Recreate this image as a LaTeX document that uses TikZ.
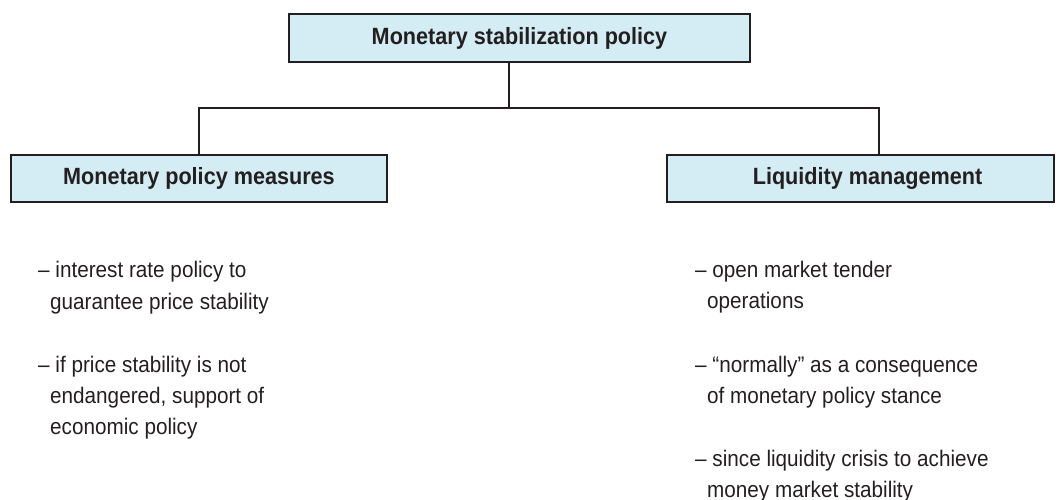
\documentclass[tikz,border=0pt]{standalone}
\usepackage{fontspec}
\setmainfont{Liberation Sans}[FakeStretch=0.92]
\definecolor{boxfill}{RGB}{212,236,243}
\definecolor{ink}{RGB}{35,31,32}
\begin{document}
\begin{tikzpicture}[x=1pt,y=-1pt,
  hbox/.style={draw=ink, line width=2pt, fill=boxfill, inner sep=0pt,
    font=\fontsize{23.5}{28}\selectfont\bfseries, text=ink},
  conn/.style={draw=ink, line width=1.5pt},
  item/.style={anchor=base west, inner sep=0pt, text=ink,
    font=\fontsize{22.5}{28}\selectfont}]
\useasboundingbox (0,0) rectangle (1056,499);
\node[hbox, minimum width=461pt, minimum height=48pt] (top) at (519.5,38) {Monetary stabilization policy};
\node[hbox, minimum width=376pt, minimum height=47pt] (left) at (199,178.5) {Monetary policy measures};
\node[hbox, minimum width=387pt, minimum height=47pt] (right) at (860.5,178.5) {\hspace*{14pt}Liquidity management};
\coordinate (j) at (509,108);
\coordinate (rj) at (879,108);
\draw[conn] (top.south -| j) -- (j);
\draw[conn] (j) -| (left.north);
\draw[conn] (j) -- (rj) -- (right.north -| rj);
% left items
\node[item] (l1a) at (38,277) {– interest rate policy to};
\node[item] (l1b) at (50,309) {guarantee price stability};
\node[item] (l2a) at (38,372) {– if price stability is not};
\node[item] (l2b) at (50,403) {endangered, support of};
\node[item] (l2c) at (50,434) {economic policy};
% right items
\node[item] (r1a) at (695,277) {– open market tender};
\node[item] (r1b) at (707,308) {operations};
\node[item] (r2a) at (695,372) {– “normally” as a consequence};
\node[item] (r2b) at (707,403) {of monetary policy stance};
\node[item] (r3a) at (695,466) {– since liquidity crisis to achieve};
\node[item] (r3b) at (707,497) {money market stability};
\end{tikzpicture}
\end{document}
